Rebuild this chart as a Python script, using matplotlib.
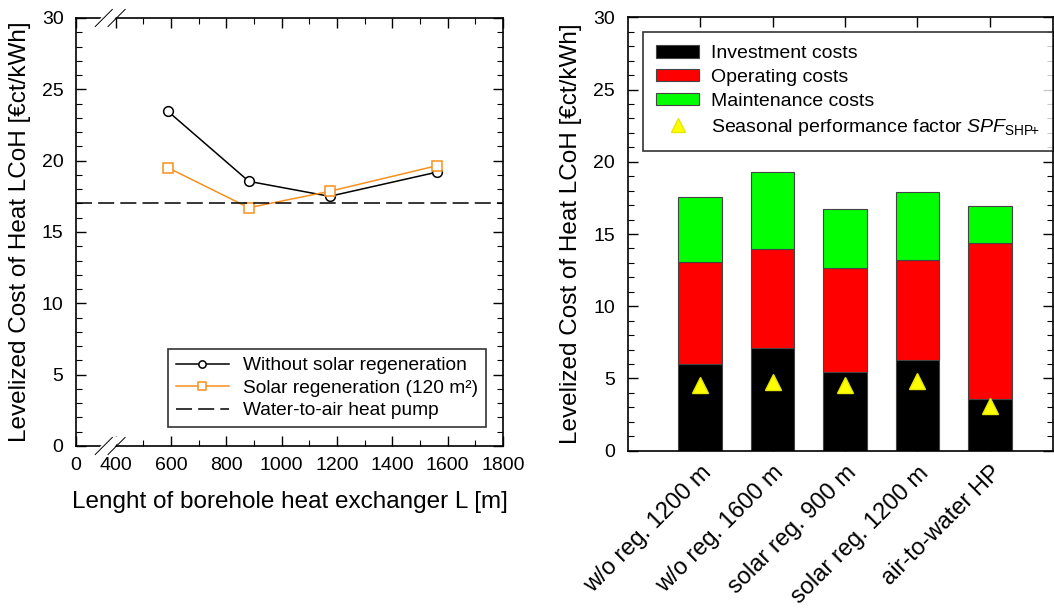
import numpy as np
import matplotlib.pyplot as plt
from matplotlib.ticker import MultipleLocator, FixedLocator

plt.rcParams['font.family'] = ['Liberation Sans', 'DejaVu Sans']
plt.rcParams['mathtext.fontset'] = 'custom'
plt.rcParams['mathtext.rm'] = 'Liberation Sans'
plt.rcParams['mathtext.it'] = 'Liberation Sans:italic'

# left panel data
length_m = [589, 881, 1173, 1562]
lcoh_no_solar = [23.45, 18.55, 17.5, 19.2]
lcoh_solar = [19.5, 16.7, 17.85, 19.65]
lcoh_air_hp = 17.0
x_ticks = [400, 600, 800, 1000, 1200, 1400, 1600, 1800]
x_zero = 256  # where the "0" label sits after the axis break

# right panel data
cases = ['w/o reg. 1200 m', 'w/o reg. 1600 m', 'solar reg. 900 m',
         'solar reg. 1200 m', 'air-to-water HP']
invest = [6.0, 7.1, 5.45, 6.3, 3.55]
operating = [7.05, 6.85, 7.2, 6.9, 10.8]
maintenance = [4.5, 5.35, 4.1, 4.7, 2.6]
spf = [4.55, 4.75, 4.55, 4.85, 3.1]

fig = plt.figure(figsize=(10.54, 6.10), dpi=100)

def style_ticks(ax):
    ax.tick_params(which='both', direction='in', top=True, right=True,
                   labelsize=14)
    ax.tick_params(axis='y', pad=9)
    ax.tick_params(axis='x', pad=8)
    ax.tick_params(which='major', length=7, width=1)
    ax.tick_params(which='minor', length=4, width=0.8)
    for s in ax.spines.values():
        s.set_linewidth(1.2)

# ---------------- left panel ----------------
ax1 = fig.add_axes([0.0721, 0.2689, 0.4051, 0.7016])
ax1.plot(length_m, lcoh_no_solar, color='black', lw=1.1, marker='o',
         ms=7, mfc='white', mec='black', mew=1.1,
         label='Without solar regeneration')
ax1.plot(length_m, lcoh_solar, color='#f7901e', lw=1.1, marker='s',
         ms=7, mfc='white', mec='#f7901e', mew=1.1,
         label='Solar regeneration (120 m²)')
ax1.axhline(lcoh_air_hp, color='black', lw=1.1, ls=(0, (10.5, 4)),
            label='Water-to-air heat pump')
ax1.set_xlim(x_zero, 1800)
ax1.set_ylim(0, 30)
ax1.xaxis.set_major_locator(FixedLocator([x_zero] + x_ticks))
ax1.set_xticklabels(['0'] + [str(t) for t in x_ticks])
ax1.xaxis.set_minor_locator(FixedLocator(list(range(500, 1800, 200))))
ax1.yaxis.set_major_locator(MultipleLocator(5))
ax1.yaxis.set_minor_locator(MultipleLocator(1))
style_ticks(ax1)
ax1.set_xlabel('Lenght of borehole heat exchanger L [m]', fontsize=17.5, labelpad=12)
ax1.set_ylabel('Levelized Cost of Heat LCoH [€ct/kWh]', fontsize=17.5, labelpad=8)
leg1 = ax1.legend(loc='lower right', bbox_to_anchor=(0.96, 0.044),
                  borderaxespad=0, fontsize=13.8, frameon=True, fancybox=False,
                  edgecolor='black', handlelength=2.75, borderpad=0.4,
                  labelspacing=0.27, handletextpad=0.75, markerscale=0.75)
leg1.get_frame().set_linewidth(1.2)

# axis break marks
for yb in (0, 1):
    ax1.fill([0.045, 0.075, 0.105, 0.075], [yb - 0.02, yb - 0.02, yb + 0.02, yb + 0.02],
             transform=ax1.transAxes, color='white', clip_on=False, zorder=5)
    for dx in (0.045, 0.075):
        ax1.plot([dx, dx + 0.04], [yb - 0.02, yb + 0.02], transform=ax1.transAxes,
                 color='black', lw=0.7, clip_on=False, zorder=6)

# ---------------- right panel ----------------
ax2 = fig.add_axes([0.5955, 0.2611, 0.4035, 0.7105])
pos = np.arange(len(cases))
bar_kw = dict(width=0.6, edgecolor='#444444', linewidth=0.8)
b1 = ax2.bar(pos, invest, color='black', label='Investment costs', **bar_kw)
b2 = ax2.bar(pos, operating, bottom=invest, color='#ff0000',
             label='Operating costs', **bar_kw)
bottom2 = np.array(invest) + np.array(operating)
b3 = ax2.bar(pos, maintenance, bottom=bottom2, color='#00ff00',
             label='Maintenance costs', **bar_kw)
tri, = ax2.plot(pos, spf, ls='none', marker='^', ms=11, color='#ffff00',
                mec='#e8e800',
                label='Seasonal performance factor $\\mathit{SPF}_{\\mathrm{SHP}\\!{+}}$')
ax2.set_xlim(-1.0, 4.87)
ax2.set_ylim(0, 30)
ax2.set_xticks(pos)
ax2.set_xticklabels(cases, rotation=45, ha='right', rotation_mode='anchor',
                    fontsize=17)
ax2.yaxis.set_major_locator(MultipleLocator(5))
ax2.yaxis.set_minor_locator(MultipleLocator(1))
style_ticks(ax2)
ax2.tick_params(axis='x', which='major', pad=8, labelsize=17)
ax2.set_ylabel('Levelized Cost of Heat LCoH [€ct/kWh]', fontsize=17.5, labelpad=8)
leg2 = ax2.legend(handles=[b1, b2, b3, tri], loc='upper left',
                  bbox_to_anchor=(0.035, 0.967),
                  borderaxespad=0, fontsize=14, frameon=True, fancybox=False,
                  edgecolor='black', handlelength=2.2, handleheight=0.6,
                  borderpad=0.7, labelspacing=0.35, handletextpad=0.6,
                  markerscale=0.9)
leg2.get_frame().set_linewidth(1.2)

fig.savefig('out.png', dpi=100)
